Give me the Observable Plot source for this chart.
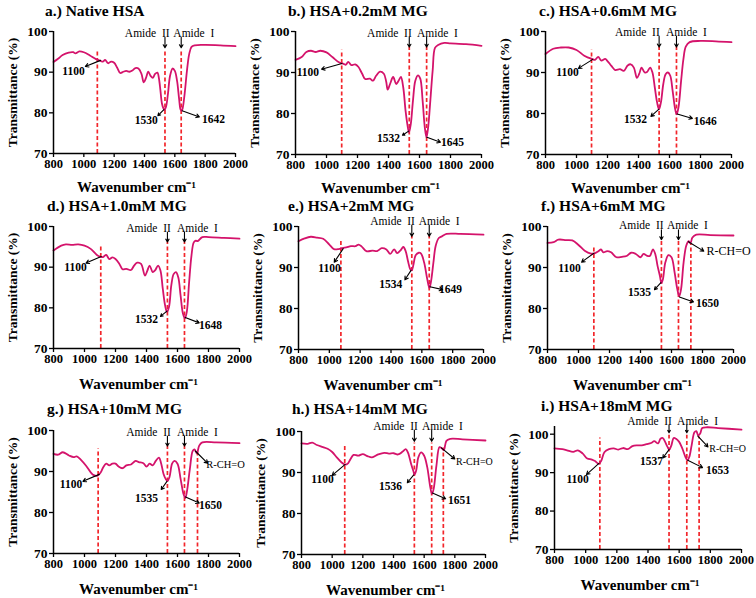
<!DOCTYPE html>
<html><head><meta charset="utf-8">
<script src="https://cdn.jsdelivr.net/npm/d3@7"></script>
<script src="https://cdn.jsdelivr.net/npm/@observablehq/plot@0.6"></script>
<style>
body{margin:0;background:#fff}
#chart{position:relative;width:756px;height:598px;font-family:"Liberation Serif",serif;color:#000}
.panel{position:absolute}
.title{position:absolute;font-weight:bold;font-size:15.5px;line-height:16px;white-space:nowrap}
</style></head><body><div id="chart"></div>
<script>
// ---- data ----
const xTicks = [800, 1000, 1200, 1400, 1600, 1800, 2000];
const yTicks = [70, 80, 90, 100];
const titles = ["a.) Native HSA","b.) HSA+0.2mM MG","c.) HSA+0.6mM MG","d.) HSA+1.0mM MG","e.) HSA+2mM MG","f.) HSA+6mM MG","g.) HSA+10mM MG","h.) HSA+14mM MG","i.) HSA+18mM MG"];
const xLabel = "Wavenumber cm⁻¹";
const yLabel = "Transmittance (%)";
const amideLabels = ["Amide  II", "Amide  I"];

const specA = [[800,92.5],[830,93.3],[860,94.2],[900,94.8],[930,94.9],[945,94.6],[970,95.1],[1000,94.9],[1040,94.1],[1080,93.2],[1110,92.8],[1125,92.6],[1140,93.0],[1160,92.2],[1180,92.6],[1200,92.3],[1220,91.1],[1240,89.8],[1260,90.1],[1280,90.3],[1300,90.1],[1320,90.4],[1340,91.0],[1360,90.9],[1380,89.6],[1395,87.5],[1410,88.6],[1425,90.1],[1440,89.1],[1455,88.6],[1470,89.6],[1485,89.9],[1495,88.5],[1505,85.5],[1515,82.3],[1525,81.1],[1532,80.7],[1542,81.5],[1555,84.8],[1568,89.0],[1585,90.9],[1600,90.3],[1615,87.8],[1628,83.5],[1638,80.8],[1645,80.5],[1652,81.2],[1665,84.8],[1680,90.4],[1695,94.5],[1710,96.2],[1730,96.6],[1800,96.7],[1900,96.6],[2000,96.4]];
const specB = [[800,93.1],[840,93.8],[870,95.0],[900,95.3],[930,95.0],[960,95.3],[1000,94.9],[1040,93.7],[1080,92.5],[1110,92.1],[1125,91.9],[1140,92.6],[1160,91.8],[1185,92.0],[1205,91.4],[1230,89.7],[1250,88.4],[1280,88.5],[1300,88.0],[1320,89.2],[1345,90.2],[1370,89.7],[1385,87.8],[1395,85.8],[1410,87.2],[1430,88.9],[1450,87.2],[1465,88.0],[1480,88.9],[1495,86.4],[1510,80.7],[1522,77.3],[1532,75.4],[1544,77.5],[1558,83.2],[1573,88.0],[1590,89.3],[1605,88.5],[1620,83.2],[1634,76.7],[1645,74.2],[1656,76.7],[1670,83.2],[1685,90.5],[1700,96.0],[1720,96.7],[1760,97.2],[1800,97.1],[1900,96.9],[2000,96.5]];
const specC = [[800,94.5],[850,95.8],[900,96.1],[950,96.1],[1000,95.5],[1050,94.1],[1100,93.3],[1120,93.1],[1140,93.8],[1160,92.9],[1185,93.3],[1200,92.8],[1225,91.6],[1250,90.6],[1280,90.8],[1305,90.4],[1330,91.7],[1350,92.0],[1370,91.2],[1390,88.7],[1405,89.7],[1420,91.2],[1440,90.0],[1455,90.1],[1475,91.2],[1490,90.0],[1505,86.4],[1520,82.7],[1532,81.0],[1545,82.8],[1560,87.2],[1575,89.6],[1590,90.0],[1605,89.2],[1620,85.6],[1635,81.4],[1646,79.8],[1658,81.5],[1675,88.0],[1690,93.3],[1705,96.3],[1730,97.4],[1800,97.7],[1900,97.6],[2000,97.4]];
const specD = [[800,94.1],[850,95.3],[880,95.6],[920,95.5],[960,95.6],[1000,95.3],[1040,94.5],[1080,93.0],[1100,92.6],[1120,92.5],[1140,93.0],[1160,92.0],[1180,92.4],[1200,92.0],[1225,90.8],[1245,89.5],[1270,89.6],[1300,89.3],[1320,90.4],[1340,91.1],[1365,90.8],[1390,87.9],[1405,89.1],[1420,90.4],[1440,88.8],[1455,89.2],[1475,90.4],[1490,89.2],[1505,84.7],[1520,80.6],[1532,79.0],[1545,80.2],[1560,85.5],[1575,88.3],[1590,88.8],[1605,87.5],[1620,83.0],[1635,78.6],[1648,77.4],[1660,79.0],[1675,86.3],[1690,92.8],[1705,96.1],[1718,96.5],[1730,96.4],[1760,97.4],[1800,97.4],[1900,97.2],[2000,97.0]];
const specE = [[800,96.4],[840,97.1],[880,97.5],[920,97.3],[960,97.0],[1000,95.6],[1030,94.5],[1060,94.5],[1090,94.8],[1110,94.9],[1140,95.2],[1170,95.2],[1190,95.6],[1210,95.1],[1240,94.0],[1280,94.1],[1310,94.0],[1340,94.7],[1370,94.4],[1395,93.3],[1420,94.4],[1440,93.5],[1460,94.1],[1480,95.0],[1495,94.0],[1510,91.6],[1525,89.6],[1535,89.3],[1545,90.6],[1560,93.0],[1580,93.6],[1595,93.4],[1615,91.2],[1635,87.2],[1649,85.0],[1660,86.7],[1675,91.2],[1690,95.3],[1710,97.2],[1730,97.6],[1760,98.2],[1850,98.2],[2000,98.0]];
const specF = [[800,96.0],[840,96.2],[870,96.8],[920,96.7],[960,96.6],[1000,95.5],[1040,94.1],[1080,93.4],[1100,93.4],[1130,94.0],[1145,94.4],[1160,93.7],[1185,94.0],[1210,93.7],[1245,92.5],[1280,92.6],[1310,92.8],[1340,93.6],[1370,93.3],[1400,92.5],[1420,93.3],[1440,92.9],[1460,92.8],[1480,94.4],[1495,93.3],[1510,90.4],[1525,88.0],[1535,86.2],[1545,87.2],[1560,91.2],[1580,93.0],[1600,92.5],[1620,88.8],[1637,84.8],[1650,83.0],[1662,84.8],[1678,91.2],[1695,95.3],[1710,96.4],[1722,95.9],[1735,97.3],[1760,98.0],[1850,97.9],[2000,97.8]];
const specG = [[800,94.3],[830,94.1],[860,94.7],[900,93.9],[930,93.5],[950,93.7],[980,92.7],[1010,91.4],[1040,89.8],[1060,89.1],[1085,89.0],[1105,89.8],[1120,91.0],[1140,91.9],[1160,91.5],[1180,91.9],[1200,91.9],[1220,91.2],[1245,90.8],[1270,91.5],[1300,91.7],[1330,92.6],[1350,92.3],[1380,92.0],[1400,91.2],[1420,91.9],[1440,91.5],[1460,92.6],[1480,93.4],[1495,91.9],[1510,89.4],[1525,88.1],[1535,87.7],[1548,88.6],[1565,91.9],[1580,92.6],[1600,91.9],[1620,88.2],[1638,84.6],[1650,83.5],[1662,85.4],[1680,90.7],[1698,95.0],[1710,95.4],[1725,94.4],[1740,96.3],[1760,97.1],[1850,97.1],[2000,96.9]];
const specH = [[800,97.1],[840,97.0],[870,97.3],[900,96.7],[940,96.2],[970,95.8],[1000,95.0],[1030,93.7],[1060,92.5],[1085,91.9],[1105,92.3],[1120,93.3],[1140,94.3],[1170,94.1],[1200,94.5],[1230,94.0],[1260,93.7],[1300,94.4],[1340,94.8],[1370,94.6],[1400,94.7],[1430,94.4],[1460,95.1],[1480,95.7],[1495,94.8],[1515,92.1],[1530,90.3],[1537,89.5],[1548,90.5],[1562,93.7],[1580,94.9],[1600,94.1],[1620,91.3],[1640,86.4],[1651,84.8],[1662,86.0],[1680,91.7],[1700,96.2],[1715,95.9],[1728,95.4],[1745,97.7],[1770,98.2],[1850,98.1],[2000,97.8]];
const specI = [[800,96.3],[850,96.1],[880,95.8],[920,95.4],[950,95.8],[980,95.0],[1010,93.7],[1040,93.4],[1060,93.0],[1085,92.3],[1100,93.1],[1120,95.3],[1150,96.1],[1180,96.3],[1210,96.0],[1240,96.4],[1270,96.1],[1300,96.9],[1330,97.1],[1360,97.1],[1390,97.4],[1420,97.7],[1440,98.2],[1465,97.6],[1480,98.8],[1495,99.0],[1510,98.0],[1525,96.7],[1537,96.0],[1550,97.1],[1565,99.0],[1580,98.8],[1600,98.0],[1620,96.3],[1640,94.1],[1653,93.2],[1665,94.1],[1680,97.1],[1698,100.5],[1710,100.8],[1722,99.7],[1735,100.2],[1748,101.6],[1780,101.8],[1850,101.6],[2000,101.2]];

// dashed marker lines [wavenumber, top]
const dashA = [[1089,95.0],[1535,95.6],[1642,95.6]];
const dashB = [[1098,95.4],[1534,96.2],[1646,96.2]];
const dashC = [[1097,95.4],[1533,96.2],[1645,96.2]];
const dashD = [[1105,95.3],[1535,96.2],[1645,96.2]];
const dashE = [[1075,96.9],[1535,97.7],[1648,97.7]];
const dashF = [[1099,95.3],[1535,96.8],[1645,96.8],[1725,95.7]];
const dashG = [[1088,95.5],[1535,96.2],[1645,96.2],[1729,95.1]];
const dashH = [[1082,96.6],[1536,97.2],[1649,97.2],[1725,96.0]];
const dashI = [[1091,99.0],[1535,99.7],[1649,99.7],[1728,99.3]];

// amide label positions [[xII,y],[xI,y]] and amide arrow y-range [from,to]
const amideTextA = [[1418,99.6],[1725,99.6]], amideArrowA = [98.6,96.0];
const amideTextB = [[1406,99.6],[1716,99.6]], amideArrowB = [98.6,96.2];
const amideTextC = [[1393,99.9],[1709,99.9]], amideArrowC = [98.8,96.2];
const amideTextD = [[1413,99.6],[1729,99.6]], amideArrowD = [98.6,96.2];
const amideTextE = [[1410,101.3],[1713,101.3]], amideArrowE = [100.3,97.6];
const amideTextF = [[1405,100.2],[1703,100.2]], amideArrowF = [99.2,96.8];
const amideTextG = [[1413,99.6],[1729,99.6]], amideArrowG = [98.6,96.2];
const amideTextH = [[1413,101.3],[1719,101.3]], amideArrowH = [100.3,97.6];
const amideTextI = [[1410,103.4],[1718,103.4]], amideArrowI = [102.4,100.4];

// peak labels [text, textX, textY, arrowFromX, arrowFromY, arrowToX, arrowToY]
const peaksA = [["1100",932,90.3,1110,92.9,1010,91.4],["1530",1411,78.2,1528,80.8,1488,79.3],["1642",1855,78.3,1648,80.5,1762,79.0]];
const peaksB = [["1100",880,90.0,1100,92.2,968,90.8],["1532",1400,74.0,1530,75.7,1490,74.7],["1645",1813,72.9,1648,74.2,1735,73.0]];
const peaksC = [["1100",942,90.0,1105,93.2,1012,91.0],["1532",1380,78.6,1530,81.0,1480,79.3],["1646",1830,78.0,1650,79.9,1748,78.8]];
const peaksD = [["1100",942,89.9,1108,92.6,1010,91.0],["1532",1400,77.2,1532,79.2,1490,77.9],["1648",1813,75.7,1650,77.6,1740,76.3]];
const peaksE = [["1100",1001,89.8,1090,94.6,1032,91.3],["1534",1399,86.0,1530,89.3,1490,87.0],["1649",1786,84.6,1652,85.3,1735,84.6]];
const peaksF = [["1100",942,89.9,1100,93.5,1020,91.3],["1535",1393,83.9,1532,86.3,1490,84.6],["1650",1832,81.3,1651,82.8,1742,81.6],["R-CH=O",1968,93.9,1709,96.3,1808,94.0]];
const peaksG = [["1100",913,86.8,1095,89.3,990,87.6],["1535",1400,83.4,1532,87.6,1495,85.6],["1650",1813,81.7,1652,83.8,1740,82.3],["R-CH=O",1910,91.7,1715,95.0,1795,92.0]];
const peaksH = [["1100",937,88.3,1085,92.0,1000,89.3],["1536",1381,86.6,1532,89.4,1490,87.5],["1651",1830,83.2,1654,85.0,1740,83.6],["R-CH=O",1928,92.7,1712,96.0,1800,93.3]];
const peaksI = [["1100",948,88.3,1085,92.4,1005,89.5],["1537",1423,93.0,1535,96.0,1495,93.8],["1653",1846,90.6,1655,93.2,1750,91.3],["R-CH=O",1911,96.3,1720,99.5,1785,96.7]];

const spectra = [specA,specB,specC,specD,specE,specF,specG,specH,specI];
const dashes = [dashA,dashB,dashC,dashD,dashE,dashF,dashG,dashH,dashI];
const amideTexts = [amideTextA,amideTextB,amideTextC,amideTextD,amideTextE,amideTextF,amideTextG,amideTextH,amideTextI];
const amideArrows = [amideArrowA,amideArrowB,amideArrowC,amideArrowD,amideArrowE,amideArrowF,amideArrowG,amideArrowH,amideArrowI];
const peaks = [peaksA,peaksB,peaksC,peaksD,peaksE,peaksF,peaksG,peaksH,peaksI];
const yMax = [100,100,100,100,100,100,100,100,102];

// ---- layout (positions / sizes) ----
const layout = [
  {left:0,   top:0,   mL:53, mR:17, mT:31, mB:45, tL:45,  tT:3,   xl:34},
  {left:252, top:0,   mL:43, mR:23, mT:31, mB:44, tL:288, tT:3,   xl:34},
  {left:504, top:0,   mL:41, mR:25, mT:31, mB:44, tL:539, tT:3,   xl:34},
  {left:0,   top:195, mL:53, mR:13, mT:31, mB:45, tL:47,  tT:198, xl:36},
  {left:252, top:195, mL:46, mR:21, mT:31, mB:44, tL:288, tT:198, xl:36},
  {left:504, top:195, mL:43, mR:23, mT:31, mB:44, tL:541, tT:198, xl:36},
  {left:0,   top:398, mL:53, mR:13, mT:32, mB:43, tL:47,  tT:401, xl:36},
  {left:252, top:398, mL:49, mR:19, mT:33, mB:42, tL:292, tT:401, xl:36},
  {left:504, top:398, mL:50, mR:15, mT:28, mB:47, tL:541, tT:398, xl:36}
];
const rchSize = [12,12,12,12,12,12,10.5,10,10];

const chart = document.getElementById("chart");
const FONT = "Liberation Serif, serif";

layout.forEach((L, i) => {
  const spec = spectra[i];
  const dash = dashes[i];
  const at = amideTexts[i];
  const aa = amideArrows[i];
  const pk = peaks[i];
  const amideArr = [dash[1][0], dash[2][0]].map(x => ({x, y1: aa[0], y2: aa[1]}));
  const amideTxt = at.map((p, k) => ({x: p[0], y: p[1], t: amideLabels[k]}));
  const nums = pk.filter(p => p[0] !== "R-CH=O");
  const rch = pk.filter(p => p[0] === "R-CH=O");
  const svg = Plot.plot({
    width: 252, height: 198,
    marginLeft: L.mL, marginRight: L.mR, marginTop: L.mT, marginBottom: L.mB,
    x: {domain: [800, 2000]},
    y: {domain: [70, yMax[i]]},
    style: {fontFamily: FONT, background: "transparent", overflow: "visible", color: "#000"},
    marks: [
      Plot.ruleX(dash, {x: d => d[0], y1: 70, y2: d => d[1], stroke: "#f2262b", strokeWidth: 1.7, strokeDasharray: "4,2.5"}),
      Plot.line(spec, {x: d => d[0], y: d => d[1], stroke: "#d4136b", strokeWidth: 1.8, curve: "catmull-rom"}),
      Plot.axisX({ticks: xTicks, tickSize: 4, tickPadding: 2, tickFormat: d => String(d), fontSize: 12.5, fontWeight: "bold", label: null, strokeWidth: 1.3}),
      Plot.axisY({ticks: yTicks, tickSize: 4, tickPadding: 2, tickFormat: d => String(d), fontSize: 13.5, fontWeight: "bold", label: null, strokeWidth: 1.3}),
      Plot.ruleY([70], {stroke: "#000", strokeWidth: 1.5}),
      Plot.ruleX([800], {stroke: "#000", strokeWidth: 1.5}),
      Plot.text([xLabel], {frameAnchor: "bottom", dy: L.xl, dx: -8, lineAnchor: "middle", fontSize: 15, fontWeight: "bold"}),
      Plot.text([yLabel], {frameAnchor: "left", rotate: -90, dx: -41, textAnchor: "middle", lineAnchor: "middle", fontSize: 13.5, fontWeight: "bold"}),
      Plot.arrow(amideArr, {x: "x", y1: "y1", y2: "y2", stroke: "#000", strokeWidth: 1.1, headLength: 5}),
      Plot.text(amideTxt, {x: "x", y: "y", text: "t", fontSize: 11.5, lineAnchor: "middle"}),
      Plot.arrow(pk, {x1: d => d[3], y1: d => d[4], x2: d => d[5], y2: d => d[6], stroke: "#000", strokeWidth: 1.1, headLength: 5}),
      Plot.text(nums, {x: d => d[1], y: d => d[2], text: d => d[0], fontSize: 11.5, fontWeight: "bold", lineAnchor: "middle"}),
      Plot.text(rch, {x: d => d[1], y: d => d[2], text: d => d[0], fontSize: rchSize[i], lineAnchor: "middle"})
    ]
  });
  svg.classList.add("panel");
  svg.style.left = L.left + "px";
  svg.style.top = L.top + "px";
  chart.appendChild(svg);
  const t = document.createElement("div");
  t.className = "title";
  t.textContent = titles[i];
  t.style.left = L.tL + "px";
  t.style.top = L.tT + "px";
  chart.appendChild(t);
});
</script></body></html>
